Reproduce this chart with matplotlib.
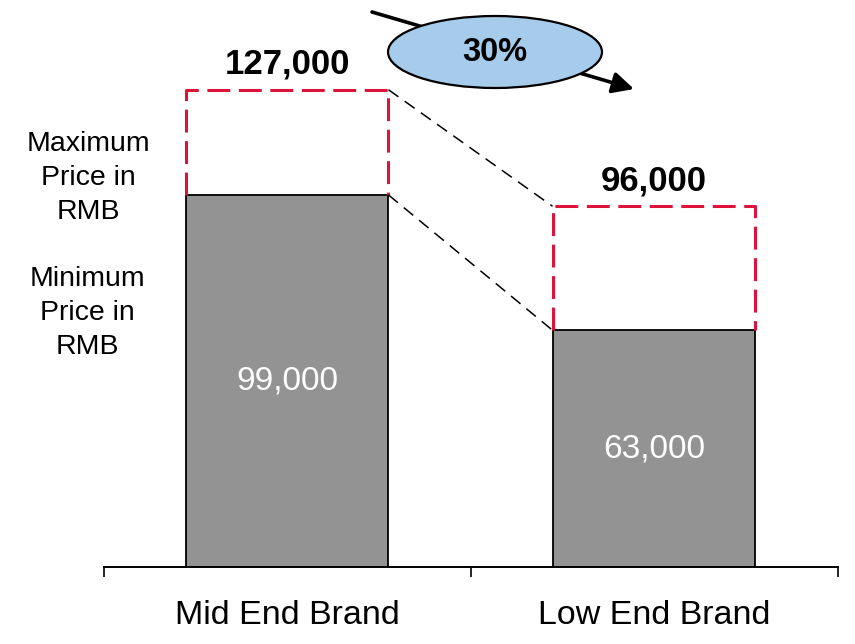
import matplotlib
matplotlib.use("Agg")
import matplotlib.pyplot as plt
from matplotlib.patches import Ellipse, FancyArrowPatch

plt.rcParams['font.family'] = ['Liberation Sans', 'DejaVu Sans']

# Price ranges in RMB
categories = ["Mid End Brand", "Low End Brand"]
min_prices = [99000, 63000]
max_prices = [127000, 96000]
drop_label = "30%"
row_labels = ["Maximum\nPrice in\nRMB", "Minimum\nPrice in\nRMB"]

W, H = 855, 644
fig = plt.figure(figsize=(W / 100, H / 100), dpi=100)

# Main axes: baseline at 567 px from top, spans tick positions -0.5 .. 1.5
base_px = 567
px_per_unit = 0.003758
ax = fig.add_axes([103.5 / W, (H - base_px) / H, 734 / W, base_px / H])
ax.set_xlim(-0.5, 1.5)
ax.set_ylim(0, base_px / px_per_unit)
for s in ("top", "right", "left"):
    ax.spines[s].set_visible(False)
ax.spines["bottom"].set_linewidth(1.4)
ax.set_yticks([])
ax.set_xticks([-0.5, 0.5, 1.5])
ax.set_xticklabels([])
ax.tick_params(axis="x", which="major", direction="out", length=7, width=1.2)
ax.set_xticks(range(len(categories)), minor=True)
ax.set_xticklabels(categories, minor=True, fontsize=24.5)
ax.tick_params(axis="x", which="minor", length=0, pad=24)

bar_w = 0.553
xs = list(range(len(categories)))
ax.bar(xs, min_prices, width=bar_w, color="#939393", edgecolor="black",
       linewidth=1.3, zorder=2)

red = "#DC143C"
for x, lo, hi in zip(xs, min_prices, max_prices):
    x0, x1 = x - bar_w / 2, x + bar_w / 2
    ax.plot([x0, x0, x1, x1], [lo, hi, hi, lo], color=red, lw=2.2,
            dashes=(7.5, 2.8), clip_on=False, zorder=3)
    ax.annotate(f"{hi:,}", (x, hi), xytext=(0, 18.5), textcoords="offset points",
                ha="center", va="center", fontsize=25, fontweight="bold",
                annotation_clip=False)
    ax.text(x, lo / 2, f"{lo:,}", ha="center", va="center", fontsize=24,
            color="white", zorder=4)

# Connectors between the two ranges
xa = xs[0] + bar_w / 2
xb = xs[1] - bar_w / 2
for va, vb in ((max_prices[0], max_prices[1]), (min_prices[0], min_prices[1])):
    ax.plot([xa, xb], [va, vb], color="black", lw=1.1, dashes=(8, 5),
            clip_on=False, zorder=3)

# Overlay in pixel coordinates for the callout
ov = fig.add_axes([0, 0, 1, 1])
ov.set_xlim(0, W)
ov.set_ylim(H, 0)
ov.axis("off")
ov.patch.set_alpha(0)

arrow = FancyArrowPatch((372, 12), (634, 89), arrowstyle="-|>",
                        mutation_scale=32, lw=2.6, color="black", zorder=1,
                        shrinkA=0, shrinkB=0)
ov.add_patch(arrow)
ov.add_patch(Ellipse((495, 52), 214, 72, facecolor="#A7CBEB",
                     edgecolor="black", lw=1.6, zorder=2))
ov.text(495, 52, drop_label, ha="center", va="center", fontsize=23.5,
        fontweight="bold", zorder=3)

ov.text(88, 178, row_labels[0], ha="center", va="center", fontsize=20.5,
        linespacing=1.38)
ov.text(87, 313, row_labels[1], ha="center", va="center", fontsize=20.5,
        linespacing=1.38)

fig.savefig("out.png", dpi=100)
